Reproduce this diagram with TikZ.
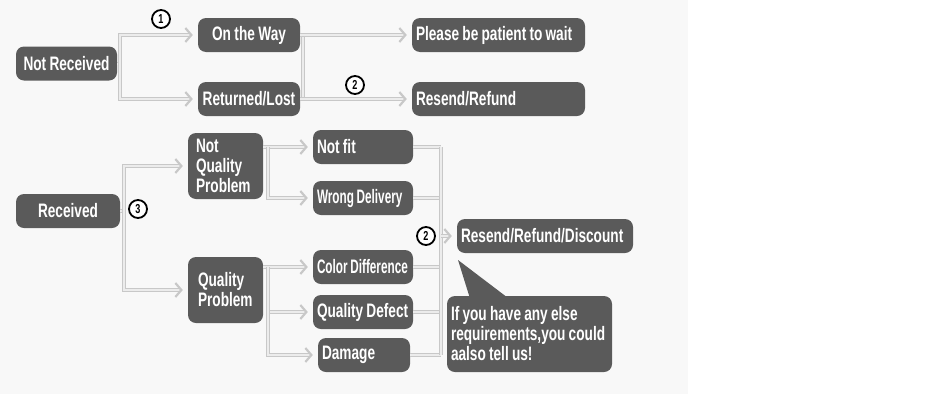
\documentclass[tikz,border=0pt]{standalone}
\usepackage{fontspec}
\setmainfont{Liberation Sans}[FakeStretch=0.70]
\usepackage{tikz}
\usetikzlibrary{positioning,arrows.meta,calc,shapes}
\definecolor{BoxGray}{RGB}{90,90,90}
\definecolor{BgGray}{RGB}{248,248,248}
\definecolor{BusGray}{RGB}{200,200,200}
\definecolor{BusFill}{RGB}{236,236,236}
\hyphenpenalty=10000
\newcommand{\tightspace}{\spaceskip=3.2pt plus 1pt\relax}

\begin{document}
\begin{tikzpicture}[x=1pt,y=-1pt,
		box/.style={rectangle,fill=BoxGray,text=white,rounded corners=8pt,minimum height=34pt,
			inner xsep=4pt,inner ysep=2pt,font=\bfseries\fontsize{19.5}{20}\selectfont,
			execute at begin node=\tightspace},
		bus/.style={draw=BusGray,double=BusFill,double distance=2pt,line width=0.8pt},
		chev/.style={-{Straight Barb[length=6pt,width=14pt,line width=2.2pt,color=BusGray]},shorten >=5pt},
		num/.style={circle,draw=black,fill=white,line width=1.8pt,inner sep=0pt,minimum size=18pt,
			font=\bfseries\fontsize{13}{13}\selectfont}]
			\useasboundingbox (0,0) rectangle (950,394);
			\fill [BgGray] (0,0) rectangle (688,394);
			% not received
			\node [box, text width=93pt, align=center, name = notrec] at (66.5,63.5) {Not Received};
			\node [box, text width=94pt, align=center, name = ontheway] at (249,35) {On the Way};
			\node [box, text width=94pt, align=center, name = returned] at (249,99) {Returned/Lost};
			\node [box, text width=165pt, align=left, name = please] at (498.5,35) {Please be patient to wait};
			\node [box, text width=165pt, align=left, name = resend] at (498.5,99) {Resend/Refund};
			\coordinate (s1) at (120,63.5);
			\coordinate (s2t) at (303,35);
			\coordinate (s2b) at (303,99);
			\draw [bus] (notrec) -- (s1);
			\draw [bus,chev] (s1) |- (ontheway);
			\draw [bus,chev] (s1) |- (returned);
			\draw [bus] (s2t) -- (s2b);
			\draw [bus,chev] (ontheway) -- (please);
			\draw [bus,chev] (returned) -- (resend);
			\node [num, name = c1] at (161,19) {1};
			\node [num, name = c2] at (355,85) {2};
			% received
			\node [box, text width=96pt, align=center, name = received] at (68,211) {Received};
			\node [box, text width=59pt, inner xsep=8pt, minimum height=66pt, align=left, name = nqp] at (225.5,166) {Not\\Quality\\Problem};
			\node [box, text width=55pt, inner xsep=10pt, minimum height=66pt, align=left, name = qp] at (225.5,290) {Quality\\Problem};
			\node [box, text width=92pt, align=left, name = notfit] at (363,147) {Not fit};
			\node [box, text width=92pt, align=left, name = wrong] at (363,198) {\scalebox{0.86}[1]{Wrong Delivery}};
			\node [box, text width=92pt, align=left, name = color] at (363,267) {\scalebox{0.86}[1]{Color Difference}};
			\node [box, text width=92pt, align=left, name = defect] at (363,312) {Quality Defect};
			\node [box, text width=84pt, align=left, name = damage] at (364,355) {Damage};
			\node [box, text width=168pt, align=left, name = rrd] at (545,236) {Resend/Refund/Discount};
			\node [box, text width=157pt, minimum height=76pt, align=left, name = bubble] at (529.5,334)
				{If you have any else\\requirements,you could\\aalso tell us!};
			\coordinate (tip) at (458,260);
			\fill [BoxGray] ($(bubble.north west)+(23,2)$) -- (tip) -- ($(bubble.north west)+(61,2)$) -- cycle;
			\coordinate (s3) at (124,211);
			\coordinate (s4) at (268,147);
			\coordinate (s5) at (268,267);
			\coordinate (s6t) at (441,147);
			\coordinate (s6b) at (441,355);
			\draw [bus] (received) -- (s3);
			\draw [bus,chev] (s3) |- (nqp);
			\draw [bus,chev] (s3) |- (qp);
			\draw [bus] (nqp.east |- s4) -- (s4);
			\draw [bus,chev] (s4) -- (notfit);
			\draw [bus,chev] (s4) |- (wrong);
			\draw [bus] (qp.east |- s5) -- (s5);
			\draw [bus,chev] (s5) -- (color);
			\draw [bus,chev] (s5) |- (defect);
			\draw [bus,chev] (s5) |- (damage);
			\foreach \n in {notfit,wrong,color,defect,damage}
				\draw [bus] (\n) -- (\n -| s6t);
			\draw [bus] (s6t) -- (s6b);
			\draw [bus,chev] (rrd -| s6t) -- (rrd);
			\node [num, name = c3] at (138,209) {3};
			\node [num, name = c4] at (426,236) {2};
		\end{tikzpicture}
\end{document}
